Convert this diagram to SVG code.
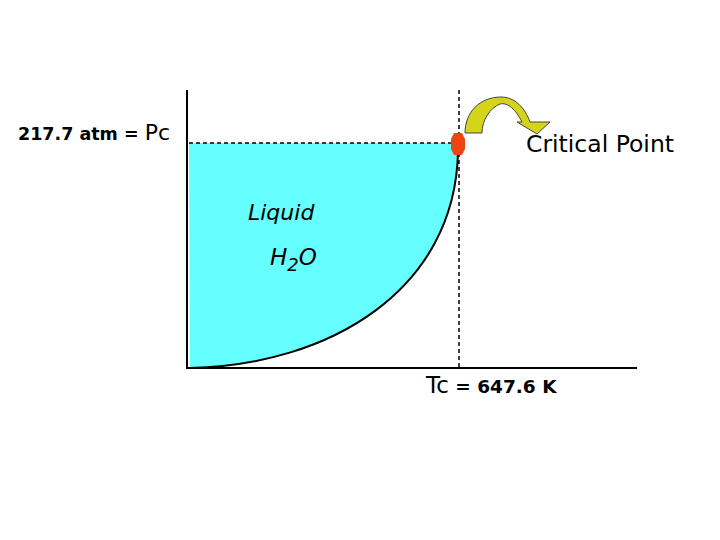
<svg xmlns="http://www.w3.org/2000/svg" width="720" height="540" viewBox="0 0 720 540">
<style>
.t{font-family:"DejaVu Sans","Liberation Sans",sans-serif;fill:#000}
.ax{stroke:#000;stroke-width:2;fill:none}
.dash{stroke:#000;stroke-width:1.5;stroke-dasharray:4,3;fill:none}
</style>
<rect width="720" height="540" fill="#fff"/>
<g id="liquid-region">
<path d="M189,143 L458,143 L458,152 C455,290 330,365 190,368 Z" fill="#66ffff"/>
<path d="M458,152 C455,290 330,365 190,368" fill="none" stroke="#000" stroke-width="2"/>
</g>
<g id="connectors">
<line class="ax" x1="187" y1="90" x2="187" y2="369"/>
<line class="ax" x1="186" y1="368" x2="637" y2="368"/>
<line class="dash" x1="459" y1="90" x2="459" y2="368"/>
<line class="dash" x1="189" y1="143" x2="452" y2="143"/>
</g>
<g id="critical-point">
<path d="M454,133 L462,133 L465,139 L465,149 L462,155 L454,155 L451,149 L451,139 Z" fill="#ee4411"/>
</g>
<g id="arrow">
<path d="M465,133 C465,112 480,97 501,97 C515,97 525,108 530,122 L550,122 L537,134 L517,122 L522,122 C516,110 508,102 500,104 C490,108 482,120 482,133 Z" fill="#d4d41a" stroke="#444" stroke-width="1"/>
</g>
<g id="labels">
<text class="t" x="18" y="140" font-size="17.5" font-weight="bold">217.7 atm = <tspan font-size="22" font-weight="normal">Pc</tspan></text>
<text class="t" x="526" y="152" font-size="23.5" textLength="148">Critical Point</text>
<text class="t" x="248" y="220" font-size="22" font-style="italic">Liquid</text>
<text class="t" x="270" y="265" font-size="23" font-style="italic">H<tspan font-size="18" dy="6">2</tspan><tspan dy="-6">O</tspan></text>
<text class="t" x="426" y="393" font-size="18.5" font-weight="bold"><tspan font-size="23" font-weight="normal">Tc</tspan> = 647.6 K</text>
</g>
</svg>
